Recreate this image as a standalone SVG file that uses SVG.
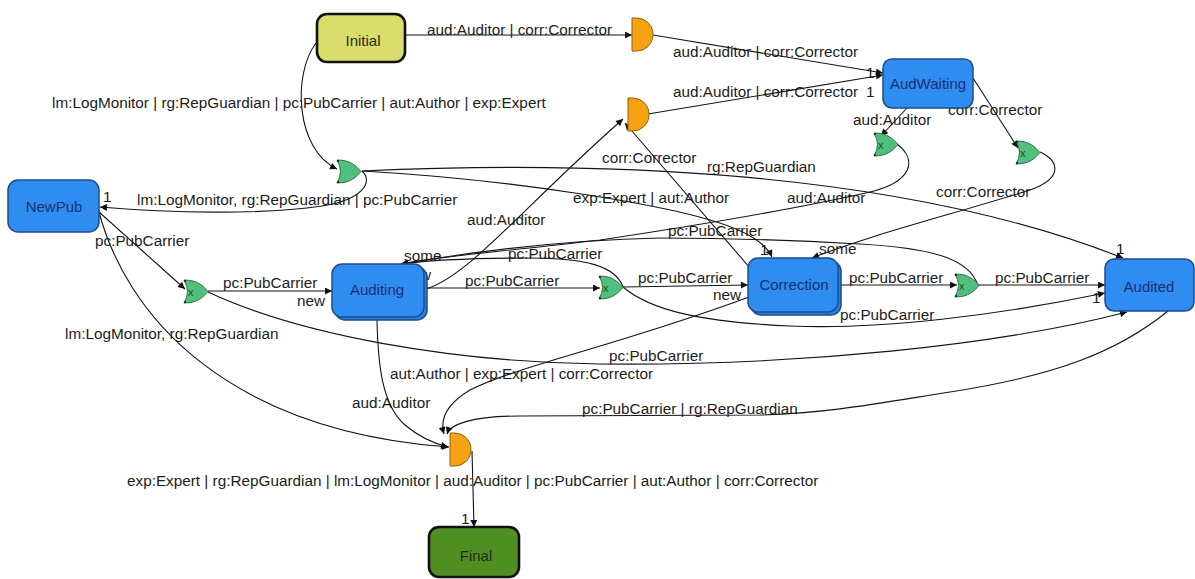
<svg xmlns="http://www.w3.org/2000/svg" width="1195" height="579" viewBox="0 0 1195 579">
  <style>
    .bg { fill: #ffffff; }
    .edge { fill: none; stroke: #141414; stroke-width: 1.1; marker-end: url(#arrow); }
    .lbl { font-family: "Liberation Sans", Arial, sans-serif; font-size: 15.3px; fill: #1c1c1c; }
    .nodeText { font-family: "Liberation Sans", Arial, sans-serif; font-size: 15px; text-anchor: middle; }
    .blue { fill: #2f8cf0; stroke: #1d4c8c; stroke-width: 1.5; }
    .blueShadow { fill: #2a7fdc; stroke: #1d4c8c; stroke-width: 1.5; }
    .blueText { fill: #1b3072; }
    .initial { fill: #d8dd6c; stroke: #111111; stroke-width: 2.6; }
    .final { fill: #4f8f22; stroke: #111111; stroke-width: 2.6; }
    .darkText { fill: #2a2a1a; }
    .andGate { fill: #f6a313; stroke: #8e6010; stroke-width: 1; }
    .orGate { fill: #50c07c; stroke: #2d7046; stroke-width: 1; }
    .gateX { font-family: "Liberation Sans", Arial, sans-serif; font-size: 11px; fill: #1f4d2e; }
    .dot { fill: #1a1a1a; }
  </style>
  <defs>
    <marker id="arrow" viewBox="0 0 10 10" refX="10" refY="5" markerWidth="9" markerHeight="7" markerUnits="userSpaceOnUse" orient="auto">
      <path d="M0,0 L10,5 L0,10 Z" fill="#111111"/>
    </marker>
    <!-- synchronising join: flat back, round front -->
    <path id="andShape" d="M0,0 H5 A16,16.5 0 0 1 5,33 H0 Z"/>
    <!-- choice gate: concave back, pointed front -->
    <path id="orShape" d="M0,0 C14,0 19,6 24,11.5 C19,17 14,23 0,23 Q7,11.5 0,0 Z"/>
  </defs>

  <rect class="bg" x="0" y="0" width="1195" height="579"/>

  <!-- transitions -->
  <g id="connectors">
    <path class="edge" d="M405,35 L632,35"/>
    <path class="edge" d="M653,35 L883,73"/>
    <path class="edge" d="M648,114 L883,75"/>
    <path class="edge" d="M316,43 C292,75 296,150 337,169"/>
    <path class="edge" d="M362,171 C374,182 362,200 322,206 C262,215 170,213 100,207"/>
    <path class="edge" d="M362,171 C600,160 900,170 1123,258"/>
    <path class="edge" d="M362,171 C520,180 660,205 710,220 C745,230 765,242 772,257"/>
    <path class="edge" d="M907,108 L881,136"/>
    <path class="edge" d="M973,78 L1018,148"/>
    <path class="edge" d="M897,144 C918,160 912,182 870,192 C800,208 700,225 600,240 C500,252 440,256 401,264"/>
    <path class="edge" d="M426,289 C470,275 520,210 623,119"/>
    <path class="edge" d="M750,268 L625,123"/>
    <path class="edge" d="M623,287 C616,266 585,258 530,258 C470,258 430,260 401,264"/>
    <path class="edge" d="M623,287 C650,310 700,322 790,326 C880,330 1000,315 1105,293"/>
    <path class="edge" d="M978,286 C970,258 930,248 860,244 C790,240 720,238 660,238 C560,240 460,254 401,264"/>
    <path class="edge" d="M99,212 L185,289"/>
    <path class="edge" d="M99,212 C125,310 220,430 449,447"/>
    <path class="edge" d="M208,291 L332,291"/>
    <path class="edge" d="M208,292 C300,335 450,362 600,364 C800,366 1000,345 1127,312"/>
    <path class="edge" d="M427,288 L600,288"/>
    <path class="edge" d="M623,287 L748,285"/>
    <path class="edge" d="M840,285 L957,285"/>
    <path class="edge" d="M978,285 L1105,285"/>
    <path class="edge" d="M1040,152 C1055,158 1068,176 1030,190 C950,215 870,235 812,258"/>
    <path class="edge" d="M749,297 C620,345 520,365 470,390 C445,405 440,420 444,434"/>
    <path class="edge" d="M1168,311 C1120,350 1060,375 950,392 C880,403 830,413 760,415 L520,416 C470,416 450,425 447,434"/>
    <path class="edge" d="M377,320 C378,365 382,405 405,425 C418,436 432,443 448,447"/>
    <path class="edge" d="M472,451 L474,527"/>

    <!-- transition labels -->
    <g class="lbl">
      <text x="427" y="35">aud:Auditor | corr:Corrector</text>
      <text x="673" y="57">aud:Auditor | corr:Corrector</text>
      <text x="673" y="97">aud:Auditor | corr:Corrector</text>
      <text x="866" y="78">1</text>
      <text x="866" y="97">1</text>
      <text x="52" y="108">lm:LogMonitor | rg:RepGuardian | pc:PubCarrier | aut:Author | exp:Expert</text>
      <text x="137" y="205">lm:LogMonitor, rg:RepGuardian | pc:PubCarrier</text>
      <text x="103" y="202">1</text>
      <text x="707" y="172">rg:RepGuardian</text>
      <text x="573" y="203">exp:Expert | aut:Author</text>
      <text x="853" y="125">aud:Auditor</text>
      <text x="948" y="115">corr:Corrector</text>
      <text x="787" y="203">aud:Auditor</text>
      <text x="467" y="225">aud:Auditor</text>
      <text x="602" y="163">corr:Corrector</text>
      <text x="508" y="259">pc:PubCarrier</text>
      <text x="668" y="236">pc:PubCarrier</text>
      <text x="404" y="261">some</text>
      <text x="403" y="280">new</text>
      <text x="95" y="246">pc:PubCarrier</text>
      <text x="65" y="339">lm:LogMonitor, rg:RepGuardian</text>
      <text x="223" y="288">pc:PubCarrier</text>
      <text x="297" y="306">new</text>
      <text x="465" y="286">pc:PubCarrier</text>
      <text x="638" y="283">pc:PubCarrier</text>
      <text x="713" y="300">new</text>
      <text x="849" y="283">pc:PubCarrier</text>
      <text x="995" y="283">pc:PubCarrier</text>
      <text x="840" y="320">pc:PubCarrier</text>
      <text x="609" y="361">pc:PubCarrier</text>
      <text x="936" y="197">corr:Corrector</text>
      <text x="819" y="254">some</text>
      <text x="760" y="255">1</text>
      <text x="1116" y="254">1</text>
      <text x="1092" y="303">1</text>
      <text x="1114" y="306">1</text>
      <text x="390" y="379">aut:Author | exp:Expert | corr:Corrector</text>
      <text x="582" y="414">pc:PubCarrier | rg:RepGuardian</text>
      <text x="352" y="408">aud:Auditor</text>
      <text x="461" y="524">1</text>
      <text x="127" y="486">exp:Expert | rg:RepGuardian | lm:LogMonitor | aud:Auditor | pc:PubCarrier | aut:Author | corr:Corrector</text>
    </g>
  </g>

  <!-- states -->
  <g id="node-initial">
    <rect class="initial" x="317" y="14" width="88" height="48" rx="10"/>
    <text class="nodeText darkText" x="363" y="46">Initial</text>
  </g>
  <g id="node-audwaiting">
    <rect class="blue" x="883" y="59" width="90" height="49" rx="9"/>
    <text class="nodeText blueText" x="928" y="89">AudWaiting</text>
  </g>
  <g id="node-newpub">
    <rect class="blue" x="8" y="180" width="91" height="52" rx="10"/>
    <text class="nodeText blueText" x="54" y="212">NewPub</text>
  </g>
  <g id="node-auditing">
    <rect class="blueShadow" x="335" y="267" width="92" height="53" rx="10"/>
    <rect class="blue" x="332" y="264" width="92" height="53" rx="10"/>
    <text class="nodeText blueText" x="377" y="295">Auditing</text>
  </g>
  <g id="node-correction">
    <rect class="blueShadow" x="751" y="261" width="90" height="54" rx="10"/>
    <rect class="blue" x="748" y="258" width="90" height="54" rx="10"/>
    <text class="nodeText blueText" x="794" y="290">Correction</text>
  </g>
  <g id="node-audited">
    <rect class="blue" x="1105" y="259" width="89" height="52" rx="9"/>
    <text class="nodeText blueText" x="1149" y="292">Audited</text>
  </g>
  <g id="node-final">
    <rect class="final" x="429" y="527" width="90" height="50" rx="10"/>
    <text class="nodeText darkText" x="476" y="561">Final</text>
  </g>

  <!-- joins -->
  <g id="join-start">
    <use href="#andShape" class="andGate" transform="translate(632,18)"/>
  </g>
  <g id="join-wait">
    <use href="#andShape" class="andGate" transform="translate(628,98)"/>
  </g>
  <g id="join-end">
    <use href="#andShape" class="andGate" transform="translate(450,433)"/>
  </g>

  <!-- choices -->
  <g id="choice-start">
    <use href="#orShape" class="orGate" transform="translate(337,160)"/>
    <circle class="dot" cx="338" cy="161" r="1.1"/><circle class="dot" cx="338" cy="182" r="1.1"/>
  </g>
  <g id="choice-auditor">
    <use href="#orShape" class="orGate" transform="translate(874,133)"/>
    <text class="gateX" x="878" y="149">x</text>
    <circle class="dot" cx="875" cy="134" r="1.1"/><circle class="dot" cx="875" cy="155" r="1.1"/>
  </g>
  <g id="choice-corrector">
    <use href="#orShape" class="orGate" transform="translate(1016,141)"/>
    <text class="gateX" x="1020" y="157">x</text>
    <circle class="dot" cx="1017" cy="142" r="1.1"/><circle class="dot" cx="1017" cy="163" r="1.1"/>
  </g>
  <g id="choice-newpub">
    <use href="#orShape" class="orGate" transform="translate(184,280)"/>
    <text class="gateX" x="188" y="296">x</text>
    <circle class="dot" cx="185" cy="281" r="1.1"/><circle class="dot" cx="185" cy="302" r="1.1"/>
  </g>
  <g id="choice-auditing">
    <use href="#orShape" class="orGate" transform="translate(599,276)"/>
    <text class="gateX" x="603" y="292">x</text>
    <circle class="dot" cx="600" cy="277" r="1.1"/><circle class="dot" cx="600" cy="298" r="1.1"/>
  </g>
  <g id="choice-correction">
    <use href="#orShape" class="orGate" transform="translate(955,274)"/>
    <text class="gateX" x="959" y="290">x</text>
    <circle class="dot" cx="956" cy="275" r="1.1"/><circle class="dot" cx="956" cy="296" r="1.1"/>
  </g>
</svg>
